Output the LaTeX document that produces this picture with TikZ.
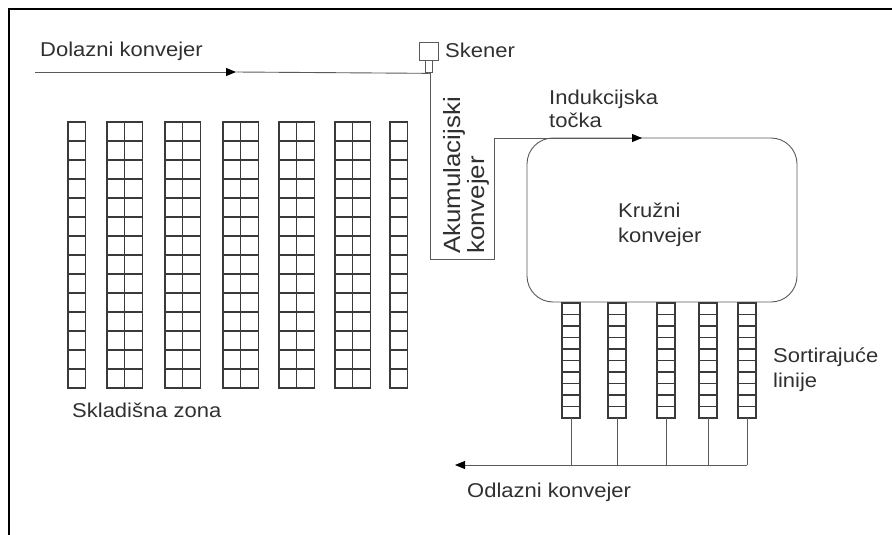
\documentclass[tikz,border=0pt]{standalone}
\usepackage{fontspec}
\setmainfont{Liberation Sans}[FakeStretch=1.1]
\usetikzlibrary{arrows.meta}
\definecolor{convcol}{HTML}{5A5A5A}
\definecolor{gridcol}{HTML}{3A3A3A}
\definecolor{txtcol}{HTML}{303030}
\begin{document}
\begin{tikzpicture}[x=1pt,y=-1pt,
  conv/.style={draw=convcol, line width=0.9pt},
  cell/.style={draw=gridcol, line width=1.1pt},
  lbl/.style={text=txtcol, font=\fontsize{20}{24}\selectfont, inner sep=0pt},
  rlbl/.style={text=txtcol, font=\fontsize{23.5}{24}\selectfont, inner sep=0pt},
  tipa/.style={-{Triangle[length=10pt,width=8pt,fill=black,color=black]}}
]
\useasboundingbox (0,0) rectangle (892,535);
\draw[line width=2pt] (9,537) -- (9,9) -- (894,9);

% storage zone
\foreach \x/\n in {68/1,107/2,165/2,223/2,279/2,335/2,390/1} {
  \pgfmathsetmacro\w{17.6*\n}
  \draw[cell] (\x,122) rectangle ++(\w,266);
  \foreach \r in {1,...,13} \draw[cell] (\x,122+19*\r) -- ++(\w,0);
  \ifnum\n=2 \draw[cell] (\x+17.6,122) -- ++(0,266); \fi
}

% circular conveyor
\node[draw=convcol, line width=0.9pt, rounded corners=26pt, minimum width=270pt,
      minimum height=164pt, inner sep=0pt] (ring) at (662,220) {};

% sorting lines
\foreach \x [count=\i] in {562,608,657,699,738} {
  \draw[cell] (\x,303) rectangle ++(18,115);
  \foreach \r in {1,...,9} \draw[cell] (\x,303+11.5*\r) -- ++(18,0);
  \coordinate (s\i) at (\x+9,418);
  \coordinate (b\i) at (\x+9,465);
  \draw[conv] (s\i) -- (b\i);
}
\coordinate (outend) at (455,465);
\draw[conv, tipa] (b5) -- (outend);

% scanner
\node[draw=convcol, line width=0.9pt, minimum width=19pt, minimum height=18pt,
      inner sep=0pt] (sk) at (428.5,51) {};
\node[draw=convcol, line width=0.9pt, minimum width=7pt, minimum height=12pt,
      inner sep=0pt, anchor=north] (stem) at (sk.south) {};
\coordinate (j) at (stem.south);

% incoming conveyor
\coordinate (din) at (35,72);
\coordinate (dmid) at (236,72);
\draw[conv, tipa] (din) -- (dmid);
\draw[conv] (dmid) -- (j);

% accumulation conveyor to induction point
\coordinate (a1) at (430,259);
\coordinate (a2) at (494,259);
\coordinate (a3) at (494,138);
\coordinate (ind) at (642,138);
\draw[conv] (j) -| (a1) -- (a2) -- (a3);
\draw[conv, tipa] (a3) -- (ind);

% labels
\node[lbl, anchor=base west] (tdol) at (40,57) {Dolazni konvejer};
\node[lbl, anchor=base west] (tsk) at (445,58) {Skener};
\node[lbl, anchor=base west] (tind1) at (549,104) {Indukcijska};
\node[lbl, anchor=base west] (tind2) at (549,127) {točka};
\node[lbl, anchor=base west] (tkr1) at (618,217) {Kružni};
\node[lbl, anchor=base west] (tkr2) at (618,242) {konvejer};
\node[rlbl, anchor=base west, rotate=90] (tak1) at (460,254) {Akumulacijski};
\node[rlbl, anchor=base west, rotate=90] (tak2) at (484,254) {konvejer};
\node[lbl, anchor=base west] (tso1) at (773,362) {Sortirajuće};
\node[lbl, anchor=base west] (tso2) at (773,387) {linije};
\node[lbl, anchor=base west] (tskl) at (72,417) {Skladišna zona};
\node[lbl, anchor=base west] (todl) at (467,497) {Odlazni konvejer};
\end{tikzpicture}
\end{document}
